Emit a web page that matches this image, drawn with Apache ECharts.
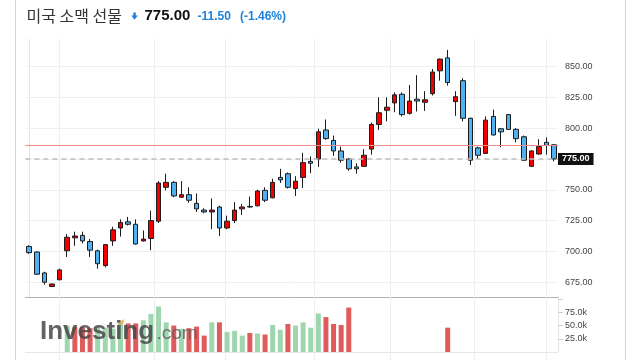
<!DOCTYPE html>
<html>
<head>
<meta charset="utf-8">
<script src="https://cdn.jsdelivr.net/npm/echarts@6/dist/echarts.min.js"></script>
<style>html,body{margin:0;padding:0;background:#fff}#c{width:640px;height:360px}</style>
</head>
<body>
<div id="c"></div>
<script>
// ---- data ----
const opens  = [704,699.5,682.5,671.5,677,700.5,711,713,708,700.5,688.5,708.5,719,724,722,708.5,710.5,724.5,752,756,744,746,739,733.5,732,736,719,725,734.5,736.5,737,749.5,743.5,760,763,751,760,773,775,798.5,790,781.5,775,768.5,769,783,803,814.5,820.5,827.5,812,823.5,821,828,846.5,857,821.5,838.5,808,784,779.5,809.5,799.5,811,799,793,769,779,788.5,786.5];
const closes = [699,681.5,675,673.5,685,711.5,712.5,708.5,701,690,705.5,717.5,723.5,722,706,710,725,755.5,756,745,746,741.5,734.5,732,733.5,719,724.5,733.5,736,736,749,741.5,756,758,752,757,772,771.5,797,791.5,781.5,774,767,767,778,803,812.5,817,827,811,822,822,823,845.5,856,837,825.5,808,774,778,806.5,794.5,797,799,791.5,774,781.5,785,786,775];
const lows   = [698,681,673,671,676.5,695.5,704.5,706.5,695.5,686,687,704.5,712,721,705.5,708,701,723,749.5,744,743.5,739.5,732,731,718,712.5,718,723,729.5,735.5,736.5,740,743,755.5,751,745,751.5,763.5,768.5,790.5,777.5,772,765.5,763,768.5,778.5,798.5,805.5,813,809.5,811,813.5,814,826.5,838.5,834.5,810,805.5,770,775,779,794,784.5,798.5,788.5,773.5,768.5,778.5,778.5,773];
const highs  = [705,700,683.5,674,686,714,716,716,710,701.5,706,720,726,728,726,717,733,757,763,757,757,752,747,735,743,737,729,740,738.5,744.5,750,752,759,767,764,761,780,777,799.5,807,794,785,775.5,771.5,783,804.5,825,825,829,829,835,843,830,848,856.5,863.5,830,840.5,808.5,785,809.5,815,800,811.5,800,794,782,791,792.5,787];
// volume (thousands); null = no bar
const volumes = [null,null,null,null,null,50,47,47,45,48,46,44,55,54,54,60,72,86,56,50,44,45,48,31,56,56,38,40,31,36,35,33,51,42,53,50,56,46,73,66,53,51,84,
  null,null,null,null,null,null,null,null,null,null,null,null,46,null,null,null,null,null,null,null,null,null,null,null,null,null,null];
const volColors = ['','','','','','g','r','r','r','g','g','g','g','r','r','g','g','g','g','r','g','r','r','r','g','r','g','g','g','r','g','r','g','g','r','g','g','g','g','r','r','r','r',
  '','','','','','','','','','','','','r','','','','','','','','','','','','','',''];
const priceTicks = [675,700,725,750,775,800,825,850];
const lastPrice = 775.00, prevClose = 786.5;
const gridDays = [4,16.5,25.8,37.5,47.5,58.5,68];

const categories = opens.map((_, i) => 'D' + (i + 1));
const candleData = opens.map((o, i) => [o, closes[i], lows[i], highs[i]]);
const GREEN = '#9ed6ad', RED = '#e05b5b';
const volData = volumes.map((v, i) => v == null ? '-' : {
  value: v * 1000, itemStyle: { color: volColors[i] === 'g' ? GREEN : RED }
});

const chart = echarts.init(document.getElementById('c'), null, { renderer: 'canvas' });
const L = 25.4, W = 532.6;
const numFont = '"Liberation Sans", Arial, sans-serif';
chart.setOption({
  animation: false,
  grid: [
    { left: L, width: W, top: 39.4, height: 257.6 },
    { left: L, width: W, top: 297, height: 55 },
    { left: L, width: W, top: 39.4, bottom: 0 }
  ],
  xAxis: [
    { type: 'category', gridIndex: 0, data: categories, boundaryGap: true,
      axisLine: { show: true, lineStyle: { color: '#b3b3b3', width: 1 } },
      axisTick: { show: false }, axisLabel: { show: false }, splitLine: { show: false } },
    { type: 'category', gridIndex: 1, data: categories, boundaryGap: true,
      axisLine: { show: true, lineStyle: { color: '#e2e7ee', width: 1 } },
      axisTick: { show: false }, axisLabel: { show: false }, splitLine: { show: false } },
    { type: 'value', gridIndex: 0, min: -0.5, max: opens.length - 0.5, show: false },
    { type: 'value', gridIndex: 2, min: -0.5, max: opens.length - 0.5, show: false }
  ],
  yAxis: [
    { type: 'value', gridIndex: 0, position: 'right', min: 663, max: 872, scale: true,
      axisLine: { show: true, lineStyle: { color: '#e0e4ea' } },
      axisTick: { show: true, customValues: priceTicks, length: 5, lineStyle: { color: '#cfcfcf' } },
      axisLabel: { customValues: priceTicks, color: '#444', fontSize: 9, fontFamily: numFont, margin: 7,
        formatter: v => v.toFixed(2) },
      splitLine: { show: false } },
    { type: 'value', gridIndex: 1, position: 'right', min: 0, max: 104000, interval: 25000,
      axisLine: { show: true, lineStyle: { color: '#e0e4ea' } },
      axisTick: { show: true, length: 5, lineStyle: { color: '#cfcfcf' } },
      axisLabel: { color: '#444', fontSize: 9, fontFamily: numFont, margin: 7, showMinLabel: false, showMaxLabel: false,
        formatter: v => (v > 0 && v < 100000) ? (v / 1000).toFixed(1) + 'k' : '' },
      splitLine: { show: false } },
    { type: 'value', gridIndex: 2, min: 0, max: 1, show: false }
  ],
  series: [
    { type: 'line', xAxisIndex: 2, yAxisIndex: 0, data: [], silent: true, z: 1,
      markLine: { silent: true, symbol: 'none', z: 1, animation: false,
        label: { show: false }, lineStyle: { color: '#f0f0f0', type: 'solid', width: 1 },
        data: priceTicks.map(p => ({ yAxis: p })) } },
    { type: 'line', xAxisIndex: 3, yAxisIndex: 2, data: [], silent: true, z: 1,
      markLine: { silent: true, symbol: 'none', z: 1, animation: false,
        label: { show: false }, lineStyle: { color: '#eeeeee', type: 'solid', width: 1 },
        data: gridDays.map(d => ({ xAxis: d })) } },
    { type: 'candlestick', xAxisIndex: 0, yAxisIndex: 0, data: candleData, barWidth: 5, z: 3,
      itemStyle: { color: '#f20000', color0: '#4fb1ef', borderColor: '#1c1c1c', borderColor0: '#1c1c1c', borderWidth: 1 },
      markLine: { silent: true, symbol: 'none', z: 4, animation: false,
        data: [
          { yAxis: prevClose, lineStyle: { color: '#f28a8a', type: 'solid', width: 1, opacity: 1 }, label: { show: false } },
          { yAxis: lastPrice, lineStyle: { color: '#bdbdbd', type: [5, 4], width: 1.5, opacity: 1 },
            label: { show: true, position: 'end', distance: 0, formatter: lastPrice.toFixed(2),
              backgroundColor: '#111', color: '#fff', fontWeight: 'bold', fontSize: 9, fontFamily: numFont,
              padding: [2, 4, 1, 4] } }
        ] } },
    { type: 'bar', xAxisIndex: 1, yAxisIndex: 1, data: volData, barWidth: 5, z: 2 }
  ],
  graphic: [
    { type: 'line', shape: { x1: 15.5, y1: 0, x2: 15.5, y2: 360 }, style: { stroke: '#d3d3d3', lineWidth: 1 } },
    { type: 'line', shape: { x1: 625.5, y1: 0, x2: 625.5, y2: 360 }, style: { stroke: '#d3d3d3', lineWidth: 1 } },
    { type: 'text', x: 26.5, y: 15.5, style: { text: '미국 소맥 선물', font: '16px "Noto Sans CJK KR"', fill: '#333', textVerticalAlign: 'middle' } },
    { type: 'polygon', shape: { points: [[133.3,12.5],[135.8,12.5],[135.8,15.5],[137.8,15.5],[134.5,19.8],[131.3,15.5],[133.3,15.5]] }, style: { fill: '#1f83db' } },
    { type: 'text', x: 144.5, y: 16, style: { text: '775.00', font: 'bold 15px ' + numFont, fill: '#111', textVerticalAlign: 'middle' } },
    { type: 'text', x: 197.5, y: 16.5, style: { text: '-11.50', font: 'bold 12px ' + numFont, fill: '#1f83db', textVerticalAlign: 'middle' } },
    { type: 'text', x: 240, y: 16.5, style: { text: '(-1.46%)', font: 'bold 12px ' + numFont, fill: '#1f83db', textVerticalAlign: 'middle' } },
    { type: 'text', x: 40, y: 331.5, z: 10, style: { text: 'Investing', font: 'bold 26px ' + numFont, fill: 'rgba(72,72,72,0.85)', textVerticalAlign: 'middle' } },
    { type: 'text', x: 156.5, y: 334, z: 10, style: { text: '.com', font: '19px ' + numFont, fill: 'rgba(95,95,95,0.85)', textVerticalAlign: 'middle' } },
    { type: 'polygon', z: 11, shape: { points: [[118.5,324.5],[123.5,319],[123.8,322.5],[119,325.5]] }, style: { fill: '#f3a93b' } }
  ]
});
</script>
</body>
</html>
